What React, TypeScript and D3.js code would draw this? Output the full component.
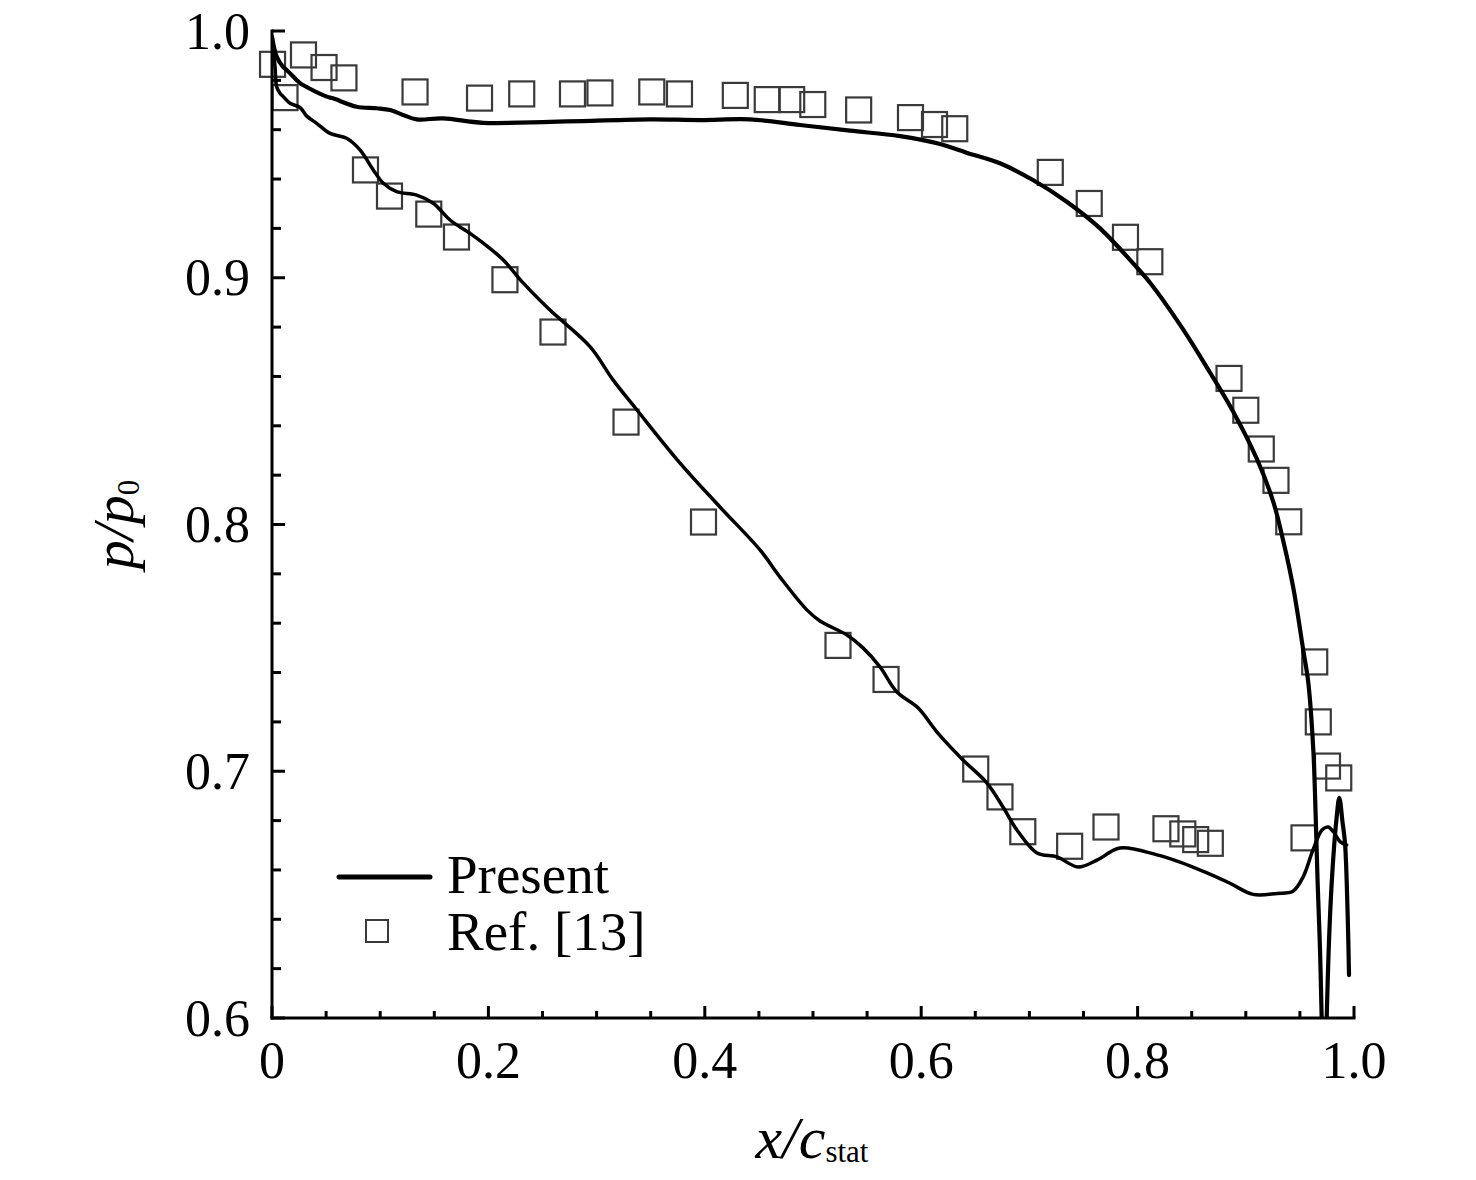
import React from "react";
import * as d3 from "d3";

// Present (CFD) — pressure side, x/c_stat and p/p0
const presentPSx = [0.0, 0.0043, 0.0102, 0.0136, 0.0259, 0.0287, 0.0506, 0.0564, 0.0783, 0.0968, 0.1091, 0.1211, 0.1337, 0.158, 0.195, 0.2569, 0.2874, 0.3494, 0.3956, 0.4418, 0.488, 0.5342, 0.5804, 0.6174, 0.642, 0.6728, 0.7033, 0.7345, 0.7653, 0.7957, 0.8115, 0.8422, 0.8669, 0.8885, 0.9101, 0.9254, 0.9347, 0.9439, 0.9531, 0.9578, 0.9624, 0.9646, 0.9664, 0.9686, 0.9701, 0.9713, 0.9741, 0.9748, 0.9778, 0.9809, 0.984, 0.9864, 0.9895, 0.9917, 0.9942, 0.9954];
const presentPSy = [0.9977, 0.9896, 0.9855, 0.9842, 0.9789, 0.9781, 0.9734, 0.9727, 0.9693, 0.9687, 0.968, 0.966, 0.9642, 0.9646, 0.9628, 0.9632, 0.9635, 0.9642, 0.9639, 0.9642, 0.9619, 0.9596, 0.9574, 0.9542, 0.9507, 0.9464, 0.9396, 0.9308, 0.92, 0.9059, 0.898, 0.879, 0.8616, 0.8456, 0.8267, 0.8092, 0.7932, 0.7743, 0.7491, 0.7358, 0.7086, 0.6816, 0.6547, 0.6276, 0.6005, 0.583, 0.583, 0.6004, 0.6409, 0.6652, 0.6815, 0.6892, 0.679, 0.6709, 0.6409, 0.6174];

// Present (CFD) — suction side
const presentSSx = [0.0, 0.0028, 0.0043, 0.0074, 0.0104, 0.0166, 0.0259, 0.0321, 0.0413, 0.0536, 0.069, 0.0813, 0.0936, 0.1029, 0.1152, 0.1337, 0.1491, 0.1645, 0.183, 0.1953, 0.2138, 0.2323, 0.2569, 0.2939, 0.3152, 0.3373, 0.3771, 0.414, 0.451, 0.4695, 0.4945, 0.5065, 0.5314, 0.5462, 0.5619, 0.5776, 0.597, 0.6146, 0.6386, 0.6608, 0.6756, 0.6885, 0.707, 0.7255, 0.7449, 0.7625, 0.7837, 0.8179, 0.8392, 0.8641, 0.8854, 0.9067, 0.9288, 0.9436, 0.9529, 0.9621, 0.9704, 0.976, 0.9809, 0.9871, 0.9932];
const presentSSy = [0.9977, 0.9855, 0.9774, 0.9748, 0.9734, 0.9707, 0.9690, 0.9655, 0.9626, 0.9585, 0.9565, 0.9518, 0.9437, 0.9383, 0.9349, 0.9335, 0.9302, 0.9234, 0.918, 0.914, 0.9072, 0.8978, 0.8869, 0.8721, 0.8586, 0.8464, 0.8249, 0.8071, 0.7897, 0.7787, 0.7653, 0.7609, 0.7552, 0.75, 0.7423, 0.7321, 0.7257, 0.7159, 0.7046, 0.6952, 0.6855, 0.6762, 0.6669, 0.6653, 0.6612, 0.664, 0.6689, 0.6661, 0.6632, 0.6588, 0.6546, 0.6501, 0.6505, 0.6514, 0.6571, 0.6681, 0.6762, 0.6774, 0.6755, 0.6715, 0.6701];

// Ref. [13] — experimental points
const refX = [0.0005, 0.0291, 0.0481, 0.0665, 0.1322, 0.1918, 0.2308, 0.2777, 0.3031, 0.351, 0.3766, 0.4282, 0.4577, 0.4803, 0.4998, 0.5422, 0.5901, 0.6123, 0.631, 0.7193, 0.7553, 0.7888, 0.8113, 0.8845, 0.9, 0.9143, 0.9279, 0.9397, 0.9637, 0.967, 0.9755, 0.9859,
  0.012, 0.0864, 0.1086, 0.1449, 0.1705, 0.2153, 0.2597, 0.3272, 0.3988, 0.5231, 0.5675, 0.6504, 0.6728, 0.6939, 0.7372, 0.7708, 0.8262, 0.8418, 0.8537, 0.8672, 0.9538];
const refY = [0.9865, 0.9903, 0.9852, 0.981, 0.9753, 0.9728, 0.9745, 0.9745, 0.9749, 0.9753, 0.9745, 0.9739, 0.9722, 0.9722, 0.9702, 0.968, 0.9649, 0.9621, 0.9604, 0.9427, 0.9301, 0.9164, 0.9065, 0.8592, 0.8463, 0.8306, 0.8179, 0.8011, 0.7443, 0.72, 0.7021, 0.6973,
  0.973, 0.9437, 0.9331, 0.9258, 0.9165, 0.8992, 0.878, 0.8415, 0.801, 0.751, 0.7372, 0.7009, 0.6896, 0.6755, 0.6696, 0.6774, 0.6767, 0.6746, 0.6723, 0.6708, 0.673];

const xMajorTicks = [0, 0.2, 0.4, 0.6, 0.8, 1.0];
const xTickLabels = ["0", "0.2", "0.4", "0.6", "0.8", "1.0"];
const yMajorTicks = [0.6, 0.7, 0.8, 0.9, 1.0];
const yTickLabels = ["0.6", "0.7", "0.8", "0.9", "1.0"];
const legendLabels = ["Present", "Ref. [13]"];

const W = 1476;
const H = 1180;
const FONT = "'Liberation Serif', 'Times New Roman', serif";

export default function App() {
  const x = d3.scaleLinear().domain([0, 1]).range([272, 1354]);
  const y = d3.scaleLinear().domain([0.6, 1.0]).range([1018, 31]);

  const line = d3
    .line<[number, number]>()
    .x((d) => x(d[0]))
    .y((d) => y(d[1]))
    .curve(d3.curveCatmullRom.alpha(0.5));

  const ps: [number, number][] = presentPSx.map((v, i) => [v, presentPSy[i]]);
  const ss: [number, number][] = presentSSx.map((v, i) => [v, presentSSy[i]]);
  const refs = refX.map((v, i) => [v, refY[i]]);

  const xMinor = d3.range(0, 1.0001, 0.05).filter((t) => Math.abs(Math.round(t * 5) - t * 5) > 1e-6);
  const yMinor = d3.range(0.6, 1.0001, 0.02).filter((t) => Math.abs(Math.round(t * 10) - t * 10) > 1e-6);

  const x0 = x(0);
  const yb = y(0.6);
  const sq = 25;

  return (
    <div>
      <style>{`body{margin:0;background:#fff}`}</style>
      <svg width={W} height={H} viewBox={`0 0 ${W} ${H}`} style={{ display: "block", background: "#fff" }}>
        <defs>
          <clipPath id="plotClip">
            <rect x={x0} y={y(1.0) - 20} width={x(1) - x0 + 20} height={yb - y(1.0) + 20} />
          </clipPath>
        </defs>

        {/* reference squares */}
        <g fill="none" stroke="#3a3a3a" strokeWidth={2.2}>
          {refs.map((d, i) => (
            <rect key={i} x={x(d[0]) - sq / 2} y={y(d[1]) - sq / 2} width={sq} height={sq} />
          ))}
        </g>

        {/* present lines */}
        <g clipPath="url(#plotClip)" fill="none" stroke="#000" strokeLinejoin="round" strokeLinecap="round">
          <path d={line(ps) || ""} strokeWidth={4.2} />
          <path d={line(ss) || ""} strokeWidth={3.5} />
        </g>

        {/* axes */}
        <g stroke="#000" strokeWidth={3} fill="none">
          <line x1={x0} y1={y(1.0) - 1.5} x2={x0} y2={yb + 1.5} />
          <line x1={x0 - 1.5} y1={yb} x2={x(1) + 1.5} y2={yb} />
          {yMajorTicks.map((t) => (
            <line key={"ym" + t} x1={x0} x2={x0 + 13} y1={y(t)} y2={y(t)} />
          ))}
          {yMinor.map((t) => (
            <line key={"yn" + t} x1={x0} x2={x0 + 9} y1={y(t)} y2={y(t)} />
          ))}
          {xMajorTicks.map((t) => (
            <line key={"xm" + t} x1={x(t)} x2={x(t)} y1={yb} y2={yb - 12} />
          ))}
          {xMinor.map((t) => (
            <line key={"xn" + t} x1={x(t)} x2={x(t)} y1={yb} y2={yb - 7} />
          ))}
        </g>

        {/* tick labels */}
        <g fontFamily={FONT} fontSize={52} fill="#000">
          {yMajorTicks.map((t, i) => (
            <text key={"yl" + t} x={250} y={y(t)} dy="0.34em" textAnchor="end">
              {yTickLabels[i]}
            </text>
          ))}
          {xMajorTicks.map((t, i) => (
            <text key={"xl" + t} x={x(t)} y={yb + 60} textAnchor="middle">
              {xTickLabels[i]}
            </text>
          ))}
        </g>

        {/* axis titles */}
        <text x={812} y={1158} textAnchor="middle" fontFamily={FONT} fontSize={60} fontStyle="italic">
          x/c<tspan fontStyle="normal" fontSize={31} dy={4}>stat</tspan>
        </text>
        <text
          transform={`translate(133, ${(y(1) + yb) / 2}) rotate(-90)`}
          textAnchor="middle"
          fontFamily={FONT}
          fontSize={58}
          fontStyle="italic"
        >
          p/p<tspan fontStyle="normal" fontSize={31} dy={6}>0</tspan>
        </text>

        {/* legend */}
        <g>
          <line x1={339} x2={430} y1={877} y2={877} stroke="#000" strokeWidth={5} strokeLinecap="round" />
          <rect x={366} y={920} width={22} height={22} fill="none" stroke="#3a3a3a" strokeWidth={2} />
          <text x={447} y={893} fontFamily={FONT} fontSize={55}>{legendLabels[0]}</text>
          <text x={447} y={950} fontFamily={FONT} fontSize={55}>{legendLabels[1]}</text>
        </g>
      </svg>
    </div>
  );
}
